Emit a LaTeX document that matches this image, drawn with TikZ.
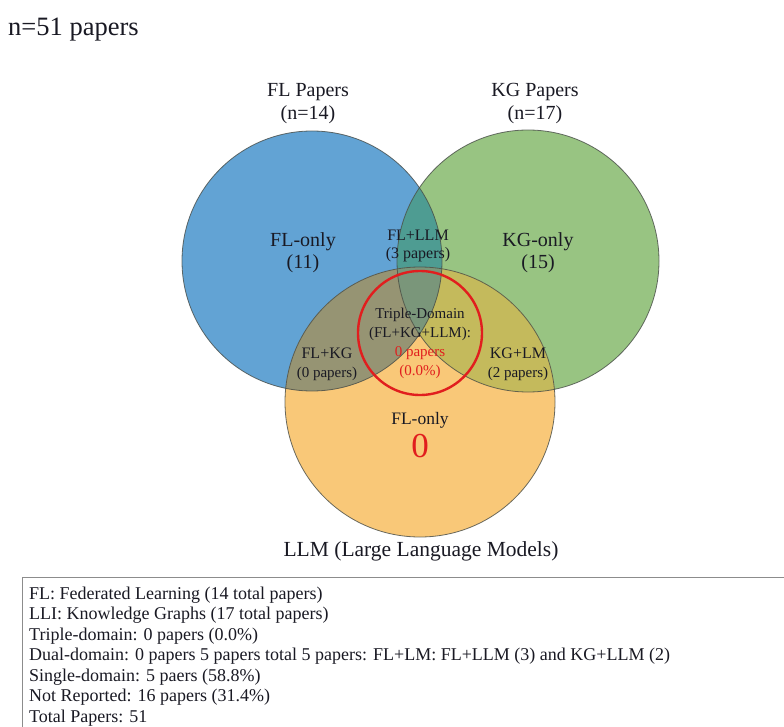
\documentclass[tikz,border=0pt]{standalone}
\usepackage{fontspec}
\setmainfont{Liberation Serif}
\definecolor{cblue}{RGB}{98,163,212}
\definecolor{cgreen}{RGB}{152,196,130}
\definecolor{corange}{RGB}{249,200,120}
\definecolor{cbg}{RGB}{78,156,146}
\definecolor{cbo}{RGB}{150,148,115}
\definecolor{cgo}{RGB}{196,186,92}
\definecolor{cbgo}{RGB}{122,150,122}
\definecolor{ctext}{RGB}{25,25,35}
\definecolor{cred}{RGB}{225,30,30}
\definecolor{cedge}{RGB}{70,75,70}
\definecolor{cbox}{RGB}{140,140,140}
\tikzset{
  lbl/.style={text=ctext, align=center, inner sep=0pt},
  big/.style={lbl, font=\fontsize{20}{23}\selectfont},
  mid/.style={lbl, font=\fontsize{16}{20}\selectfont},
  small/.style={lbl, font=\fontsize{15}{18}\selectfont},
  legendline/.style={anchor=west, inner sep=0pt, text=ctext, font=\fontsize{18}{20}\selectfont},
  ring/.style={draw=cedge, line width=0.8pt, draw opacity=0.8}
}
\begin{document}
\begin{tikzpicture}[x=1pt,y=-1pt]
\useasboundingbox (0,0) rectangle (784,727);
\fill[white] (0,0) rectangle (784,727);
\coordinate (B) at (312,261);
\coordinate (G) at (528,261);
\coordinate (O) at (420,402);
\coordinate (R) at (420,333);
% base fills
\fill[cblue] (B) circle[radius=130pt];
\fill[cgreen] (G) circle[radius=131pt];
\fill[corange] (O) circle[radius=135pt];
% pairwise overlaps
\begin{scope}
  \clip (B) circle[radius=130pt];
  \fill[cbg] (G) circle[radius=131pt];
  \fill[cbo] (O) circle[radius=135pt];
\end{scope}
\begin{scope}
  \clip (G) circle[radius=131pt];
  \fill[cgo] (O) circle[radius=135pt];
\end{scope}
\begin{scope}
  \clip (B) circle[radius=130pt];
  \clip (G) circle[radius=131pt];
  \fill[cbgo] (O) circle[radius=135pt];
\end{scope}
% outlines
\draw[ring] (B) circle[radius=130pt];
\draw[ring] (G) circle[radius=131pt];
\draw[ring] (O) circle[radius=135pt];
\draw[cred, line width=2.4pt] (R) circle[radius=62pt];
% title
\node[anchor=west, inner sep=0pt, text=ctext, font=\fontsize{26.5}{30}\selectfont] (title) at (8,30) {n=51 papers};
% set labels
\node[big] (flp) at (308,92) {FL Papers};
\node[big] (fln) at (308,115) {(n=14)};
\node[big] (kgp) at (535,92) {KG Papers};
\node[big] (kgn) at (535,115) {(n=17)};
\node[big] (llml) at (421,551) {\fontsize{21.5}{24}\selectfont LLM (Large Language Models)};
% region labels
\node[big] (flo) at (303,242) {FL-only};
\node[big] (flo2) at (303,264) {(11)};
\node[big] (kgo) at (538,242) {KG-only};
\node[big] (kgo2) at (538,264) {(15)};
\node[mid] (fll) at (418,235) {FL+LLM};
\node[mid] (fll2) at (418,255) {(3 papers)};
\node[small] (tri1) at (420,315) {Triple-Domain};
\node[small] (tri2) at (420,334) {(FL+KG+LLM):};
\node[small, text=cred] (tri3) at (420,353) {0 papers};
\node[small, text=cred] (tri4) at (420,372) {(0.0\%)};
\node[mid] (flkg) at (327,353) {FL+KG};
\node[small] (flkg2) at (327,374) {(0 papers)};
\node[mid] (kglm) at (518,353) {KG+LM};
\node[small] (kglm2) at (518,374) {(2 papers)};
\node[mid] (llmo) at (420,420) {\fontsize{17.5}{20}\selectfont FL-only};
\node[lbl, text=cred, font=\fontsize{35}{36}\selectfont] (zero) at (420,446) {0};
% legend
\draw[cbox, line width=0.9pt] (22,577) rectangle (800,760);
\node[legendline] (l1) at (29,595) {FL: Federated Learning (14 total papers)};
\node[legendline] (l2) at (29,615.5) {LLI: Knowledge Graphs (17 total papers)};
\node[legendline] (l3) at (29,636) {Triple-domain: 0 papers (0.0\%)};
\node[legendline] (l4) at (29,656.5) {Dual-domain: 0 papers 5 papers total 5 papers: FL+LM: FL+LLM (3) and KG+LLM (2)};
\node[legendline] (l5) at (29,677) {Single-domain: 5 paers (58.8\%)};
\node[legendline] (l6) at (29,697.5) {Not Reported: 16 papers (31.4\%)};
\node[legendline] (l7) at (29,718) {Total Papers: 51};
\end{tikzpicture}
\end{document}
